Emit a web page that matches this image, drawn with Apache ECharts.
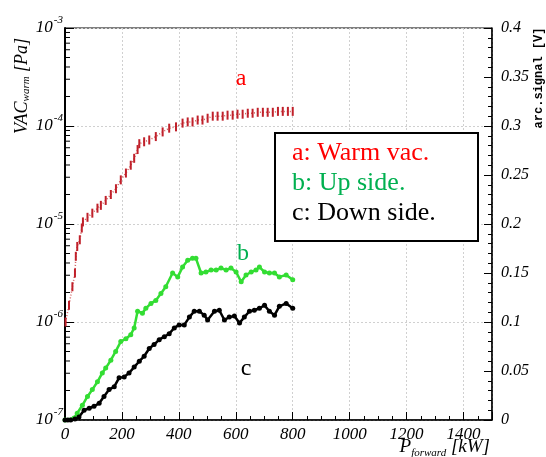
<!DOCTYPE html>
<html>
<head>
<meta charset="utf-8">
<script src="https://cdn.jsdelivr.net/npm/echarts@6/dist/echarts.min.js"></script>
<style>
html, body { margin: 0; padding: 0; background: #fff; }
#chart { width: 546px; height: 457px; }
</style>
</head>
<body>
<div id="chart"></div>
<script>
// a: warm vacuum pressure [Pa] (left log axis)
var vacPower = [2, 14, 26, 35, 38, 43, 52, 59, 63, 79, 96, 114, 126, 143, 161, 179, 196, 214, 231, 243,
  255, 261, 278, 296, 319, 343, 366, 390, 413, 431, 448, 466, 483, 501, 519, 536, 554, 571, 589, 606,
  624, 642, 659, 677, 695, 712, 730, 748, 765, 783, 800];
var vacWarm = [1.0e-6, 1.48e-6, 2.29e-6, 3.16e-6, 4.68e-6, 5.9e-6, 6.9e-6, 9.1e-6, 1.05e-5, 1.17e-5,
  1.29e-5, 1.45e-5, 1.55e-5, 1.74e-5, 2.0e-5, 2.29e-5, 2.82e-5, 3.31e-5, 3.98e-5, 4.68e-5, 5.75e-5,
  6.6e-5, 6.9e-5, 7.2e-5, 7.8e-5, 8.7e-5, 9.5e-5, 9.8e-5, 1.07e-4, 1.10e-4, 1.10e-4, 1.15e-4, 1.15e-4,
  1.20e-4, 1.26e-4, 1.26e-4, 1.26e-4, 1.29e-4, 1.29e-4, 1.32e-4, 1.32e-4, 1.35e-4, 1.35e-4, 1.38e-4,
  1.38e-4, 1.38e-4, 1.38e-4, 1.41e-4, 1.41e-4, 1.41e-4, 1.41e-4];

// b: up side arc signal [V] (right axis)
var upPower = [0, 32, 43, 61, 79, 96, 114, 131, 143, 161, 178, 196, 214, 231, 243, 255, 272, 284, 302, 319,
  337, 354, 378, 396, 413, 431, 448, 460, 478, 495, 513, 531, 548, 566, 583, 601, 619, 636, 654, 671,
  683, 701, 718, 736, 753, 777, 800];
var upSignal = [0, 0.002, 0.007, 0.015, 0.024, 0.031, 0.039, 0.048, 0.053, 0.061, 0.070, 0.080, 0.083,
  0.087, 0.094, 0.111, 0.109, 0.114, 0.119, 0.122, 0.129, 0.136, 0.150, 0.146, 0.156, 0.163, 0.165,
  0.165, 0.150, 0.151, 0.153, 0.153, 0.155, 0.153, 0.155, 0.151, 0.141, 0.148, 0.151, 0.153, 0.156,
  0.151, 0.150, 0.150, 0.146, 0.148, 0.143];

// c: down side arc signal [V] (right axis)
var downPower = [0, 10, 20, 35, 49, 67, 85, 102, 120, 137, 155, 173, 190, 208, 225, 243, 261, 278, 296,
  313, 331, 349, 366, 384, 401, 419, 437, 454, 472, 489, 501, 525, 542, 560, 577, 595, 613, 630, 648,
  665, 683, 701, 718, 736, 753, 777, 800];
var downSignal = [0, 0, 0, 0.001, 0.003, 0.010, 0.012, 0.014, 0.017, 0.024, 0.031, 0.034, 0.043, 0.044,
  0.048, 0.054, 0.060, 0.065, 0.073, 0.077, 0.082, 0.085, 0.088, 0.094, 0.097, 0.097, 0.105, 0.111,
  0.111, 0.107, 0.102, 0.111, 0.112, 0.102, 0.105, 0.106, 0.099, 0.105, 0.111, 0.112, 0.114, 0.117,
  0.111, 0.107, 0.116, 0.119, 0.114];

// minor ticks of the log axis (2..9 per decade)
var logMinorTicks = [];
[1e-7, 1e-6, 1e-5, 1e-4].forEach(function (d) {
  for (var k = 2; k <= 9; k++) logMinorTicks.push(k * d);
});

function zip(xs, ys) {
  return xs.map(function (x, i) { return [x, ys[i]]; });
}

var serif = 'Liberation Serif';

var chart = echarts.init(document.getElementById('chart'), null, {renderer: 'canvas'});
chart.setOption({
  animation: false,
  grid: {left: 65, right: 54, top: 28, bottom: 37, show: true, borderColor: '#000', borderWidth: 1},
  xAxis: {
    type: 'value', min: 0, max: 1500, interval: 200,
    axisLine: {lineStyle: {color: '#000', width: 1.5}},
    axisTick: {inside: true, length: 8, lineStyle: {color: '#000'}},
    minorTick: {show: true, splitNumber: 4, length: 4, lineStyle: {color: '#000'}},
    splitLine: {show: true, lineStyle: {color: '#d0d0d0', type: [2, 2]}},
    axisLabel: {fontFamily: serif, fontStyle: 'italic', fontSize: 17, color: '#000', margin: 6,
      showMaxLabel: false, formatter: function (v) { return String(v); }}
  },
  yAxis: [{
    type: 'log', logBase: 10, min: 1e-7, max: 1e-3,
    axisLine: {show: true, lineStyle: {color: '#000', width: 2}},
    axisTick: {inside: true, length: 9, lineStyle: {color: '#000'}},
    splitLine: {show: true, lineStyle: {color: '#d0d0d0', type: [2, 2]}},
    axisLabel: {
      margin: 2,
      formatter: function (v) {
        return '{b|10}{e|' + Math.round(Math.log10(v)) + '}';
      },
      rich: {
        b: {fontFamily: serif, fontStyle: 'italic', fontSize: 17, color: '#000'},
        e: {fontFamily: serif, fontStyle: 'italic', fontSize: 11, color: '#000', padding: [0, 0, 16, 1]}
      }
    }
  }, {
    type: 'value', min: 0, max: 0.4, interval: 0.05, position: 'right',
    axisLine: {show: true, lineStyle: {color: '#000', width: 1.5}},
    axisTick: {inside: true, length: 8, lineStyle: {color: '#000'}},
    minorTick: {show: true, splitNumber: 5, length: 4, lineStyle: {color: '#000'}},
    splitLine: {show: false},
    axisLabel: {fontFamily: serif, fontStyle: 'italic', fontSize: 16, color: '#000', margin: 9}
  }],
  series: [{
    type: 'custom', xAxisIndex: 0, yAxisIndex: 0, silent: true,
    data: logMinorTicks.map(function (v) { return [0, v]; }),
    renderItem: function (params, api) {
      var p = api.coord([0, api.value(1)]);
      return {type: 'line', shape: {x1: p[0], y1: p[1], x2: p[0] + 5, y2: p[1]}, style: {stroke: '#000', lineWidth: 1}};
    }
  }, {
    name: 'a: Warm vac.', type: 'line', yAxisIndex: 0,
    data: zip(vacPower, vacWarm),
    symbol: 'rect', symbolSize: [2, 9],
    lineStyle: {color: '#d05a5a', width: 1.5, type: [1, 2]},
    itemStyle: {color: '#c0202a'}
  }, {
    name: 'b: Up side.', type: 'line', yAxisIndex: 1,
    data: zip(upPower, upSignal),
    symbol: 'circle', symbolSize: 5,
    lineStyle: {color: '#33dd33', width: 2.5},
    itemStyle: {color: '#33dd33'}
  }, {
    name: 'c: Down side.', type: 'line', yAxisIndex: 1,
    data: zip(downPower, downSignal),
    symbol: 'circle', symbolSize: 5,
    lineStyle: {color: '#000', width: 2.5},
    itemStyle: {color: '#000'}
  }],
  graphic: [
    {type: 'text', x: 22, y: 86, z: 100, rotation: Math.PI / 2, style: {
      text: '{t|VAC}{s|warm}{t| [Pa]}', align: 'center', verticalAlign: 'middle',
      rich: {
        t: {fontFamily: serif, fontStyle: 'italic', fontSize: 18, fill: '#000'},
        s: {fontFamily: serif, fontStyle: 'italic', fontSize: 11, fill: '#000', padding: [8, 0, 0, 0]}
      }
    }},
    {type: 'text', x: 539, y: 78, z: 100, rotation: Math.PI / 2, style: {
      text: 'arc.signal [V]', align: 'center', verticalAlign: 'middle',
      fontFamily: 'Liberation Mono', fontWeight: 'bold', fontSize: 12, fill: '#000'
    }},
    {type: 'text', x: 490, y: 447, z: 100, style: {
      text: '{t|P}{s|forward}{t| [kW]}', align: 'right', verticalAlign: 'middle',
      rich: {
        t: {fontFamily: serif, fontStyle: 'italic', fontSize: 19, fill: '#000'},
        s: {fontFamily: serif, fontStyle: 'italic', fontSize: 11, fill: '#000', padding: [12, 0, 0, 0]}
      }
    }},
    {type: 'text', x: 241, y: 79, z: 100, style: {text: 'a', fontFamily: serif, fontSize: 24, fill: '#ff0000', align: 'center', verticalAlign: 'middle'}},
    {type: 'text', x: 243, y: 254, z: 100, style: {text: 'b', fontFamily: serif, fontSize: 24, fill: '#00b050', align: 'center', verticalAlign: 'middle'}},
    {type: 'text', x: 246, y: 369, z: 100, style: {text: 'c', fontFamily: serif, fontSize: 24, fill: '#000', align: 'center', verticalAlign: 'middle'}},
    {type: 'rect', z: 100, shape: {x: 275, y: 133, width: 203, height: 108}, style: {fill: '#fff', stroke: '#000', lineWidth: 2}},
    {type: 'text', x: 292, y: 153, z: 101, style: {text: 'a: Warm vac.', fontFamily: serif, fontSize: 26, fill: '#ff0000', verticalAlign: 'middle'}},
    {type: 'text', x: 292, y: 183, z: 101, style: {text: 'b: Up side.', fontFamily: serif, fontSize: 26, fill: '#00b050', verticalAlign: 'middle'}},
    {type: 'text', x: 292, y: 213, z: 101, style: {text: 'c: Down side.', fontFamily: serif, fontSize: 26, fill: '#000', verticalAlign: 'middle'}}
  ]
});
</script>
</body>
</html>
